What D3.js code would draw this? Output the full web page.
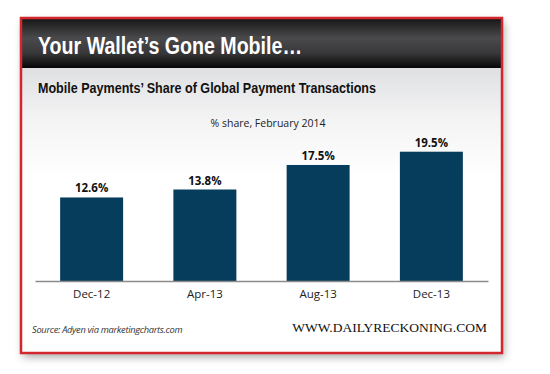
<!DOCTYPE html>
<html>
<head>
<meta charset="utf-8">
<script src="https://cdn.jsdelivr.net/npm/d3@7"></script>
<style>
  html, body { margin: 0; padding: 0; background: #fff; }
  svg { display: block; }
</style>
</head>
<body>
<div class="chart"></div>
<script>
// chart data
const months = ["Dec-12", "Apr-13", "Aug-13", "Dec-13"];
const shares = [12.6, 13.8, 17.5, 19.5];
const valueLabels = ["12.6%", "13.8%", "17.5%", "19.5%"];

const title = "Your Wallet\u2019s Gone Mobile\u2026";
const subtitle = "Mobile Payments\u2019 Share of Global Payment Transactions";
const note = "% share, February 2014";
const source = "Source: Adyen via marketingcharts.com";
const brand = "WWW.DAILYRECKONING.COM";

let outWidth = 550, outHeight = 374;
let frame = {x: 21, y: 18, w: 481, h: 335};
let plot = {left: 35, right: 488, base: 281};

const svg = d3.select('.chart').append('svg')
  .attr("width", outWidth)
  .attr("height", outHeight);

const defs = svg.append("defs");

const shadow = defs.append("filter")
  .attr("id", "shadow")
  .attr("x", "-10%").attr("y", "-10%")
  .attr("width", "120%").attr("height", "125%");
shadow.append("feDropShadow")
  .attr("dx", 2).attr("dy", 4)
  .attr("stdDeviation", 4)
  .attr("flood-color", "#000")
  .attr("flood-opacity", 0.35);

const headGrad = defs.append("linearGradient")
  .attr("id", "headGrad")
  .attr("x1", 0).attr("y1", 0).attr("x2", 0).attr("y2", 1);
[[0, "#151515"], [0.4, "#4a4a4c"], [0.7, "#38383a"], [1, "#060606"]].forEach(s =>
  headGrad.append("stop").attr("offset", s[0]).attr("stop-color", s[1]));

const panelGrad = defs.append("linearGradient")
  .attr("id", "panelGrad")
  .attr("x1", 0).attr("y1", 0).attr("x2", 0).attr("y2", 1);
[[0, "#dfe0e2"], [0.45, "#f3f3f4"], [1, "#ffffff"]].forEach(s =>
  panelGrad.append("stop").attr("offset", s[0]).attr("stop-color", s[1]));

// frame with shadow
svg.append("rect")
  .attr("x", frame.x).attr("y", frame.y)
  .attr("width", frame.w).attr("height", frame.h)
  .attr("fill", "#fff")
  .attr("filter", "url(#shadow)");

svg.append("rect")
  .attr("x", frame.x).attr("y", 68)
  .attr("width", frame.w).attr("height", 110)
  .attr("fill", "url(#panelGrad)");

svg.append("rect")
  .attr("x", frame.x).attr("y", frame.y)
  .attr("width", frame.w).attr("height", 50)
  .attr("fill", "url(#headGrad)");

svg.append("rect")
  .attr("x", frame.x).attr("y", frame.y)
  .attr("width", frame.w).attr("height", frame.h)
  .attr("fill", "none")
  .attr("stroke", "#d3262d")
  .attr("stroke-width", 2.5);

// titles (condensed look via textLength, no narrow font installed)
svg.append("text")
  .attr("x", 38).attr("y", 54)
  .attr("font-family", "'Liberation Sans', Arial, sans-serif")
  .attr("font-weight", "bold")
  .attr("font-size", 23)
  .attr("textLength", 264)
  .attr("lengthAdjust", "spacingAndGlyphs")
  .attr("fill", "#fff")
  .text(title);

svg.append("text")
  .attr("x", 38).attr("y", 92.5)
  .attr("font-family", "'Liberation Sans', Arial, sans-serif")
  .attr("font-weight", "bold")
  .attr("font-size", 14.5)
  .attr("textLength", 338)
  .attr("lengthAdjust", "spacingAndGlyphs")
  .attr("fill", "#111")
  .text(subtitle);

svg.append("text")
  .attr("x", 268).attr("y", 127)
  .attr("text-anchor", "middle")
  .attr("font-family", "'Open Sans', sans-serif")
  .attr("font-size", 10.5)
  .attr("fill", "#222")
  .text(note);

// scales
let xScale = d3.scaleBand()
  .domain(months)
  .range([plot.left, plot.right])
  .paddingInner(0.444)
  .paddingOuter(0.222);

let yScale = d3.scaleLinear()
  .domain([0, 20])
  .range([plot.base, plot.base - 132.6]);

const data = months.map((m, i) => ({month: m, share: shares[i], label: valueLabels[i]}));

const g = svg.append("g");

g.selectAll("rect.bar")
  .data(data)
  .enter().append("rect")
  .attr("class", "bar")
  .attr("x", d => xScale(d.month))
  .attr("y", d => yScale(d.share))
  .attr("width", xScale.bandwidth())
  .attr("height", d => yScale(0) - yScale(d.share))
  .attr("fill", "#063c5c");

g.selectAll("text.val")
  .data(data)
  .enter().append("text")
  .attr("class", "val")
  .attr("x", d => xScale(d.month) + xScale.bandwidth() / 2)
  .attr("y", d => yScale(d.share) - 5)
  .attr("text-anchor", "middle")
  .attr("font-family", "'Open Sans', sans-serif")
  .attr("font-weight", "bold")
  .attr("font-size", 11.5)
  .attr("fill", "#111")
  .text(d => d.label);

const xAxis = d3.axisBottom(xScale).tickSize(0).tickPadding(9);

const axisG = g.append("g")
  .attr("transform", `translate(0, ${plot.base})`)
  .call(xAxis);
axisG.select(".domain")
  .attr("stroke", "#8c8c8c")
  .attr("stroke-width", 1.5);
axisG.selectAll("text")
  .attr("font-family", "'Open Sans', sans-serif")
  .attr("font-size", 11.5)
  .attr("fill", "#222");

// footer
svg.append("text")
  .attr("x", 32).attr("y", 333)
  .attr("font-family", "'Open Sans', sans-serif")
  .attr("font-style", "italic")
  .attr("font-size", 9.3)
  .attr("letter-spacing", -0.3)
  .attr("fill", "#333")
  .text(source);

svg.append("text")
  .attr("x", 487).attr("y", 332)
  .attr("text-anchor", "end")
  .attr("font-family", "'Liberation Serif', serif")
  .attr("font-size", 13.5)
  .attr("fill", "#111")
  .text(brand);
</script>
</body>
</html>
